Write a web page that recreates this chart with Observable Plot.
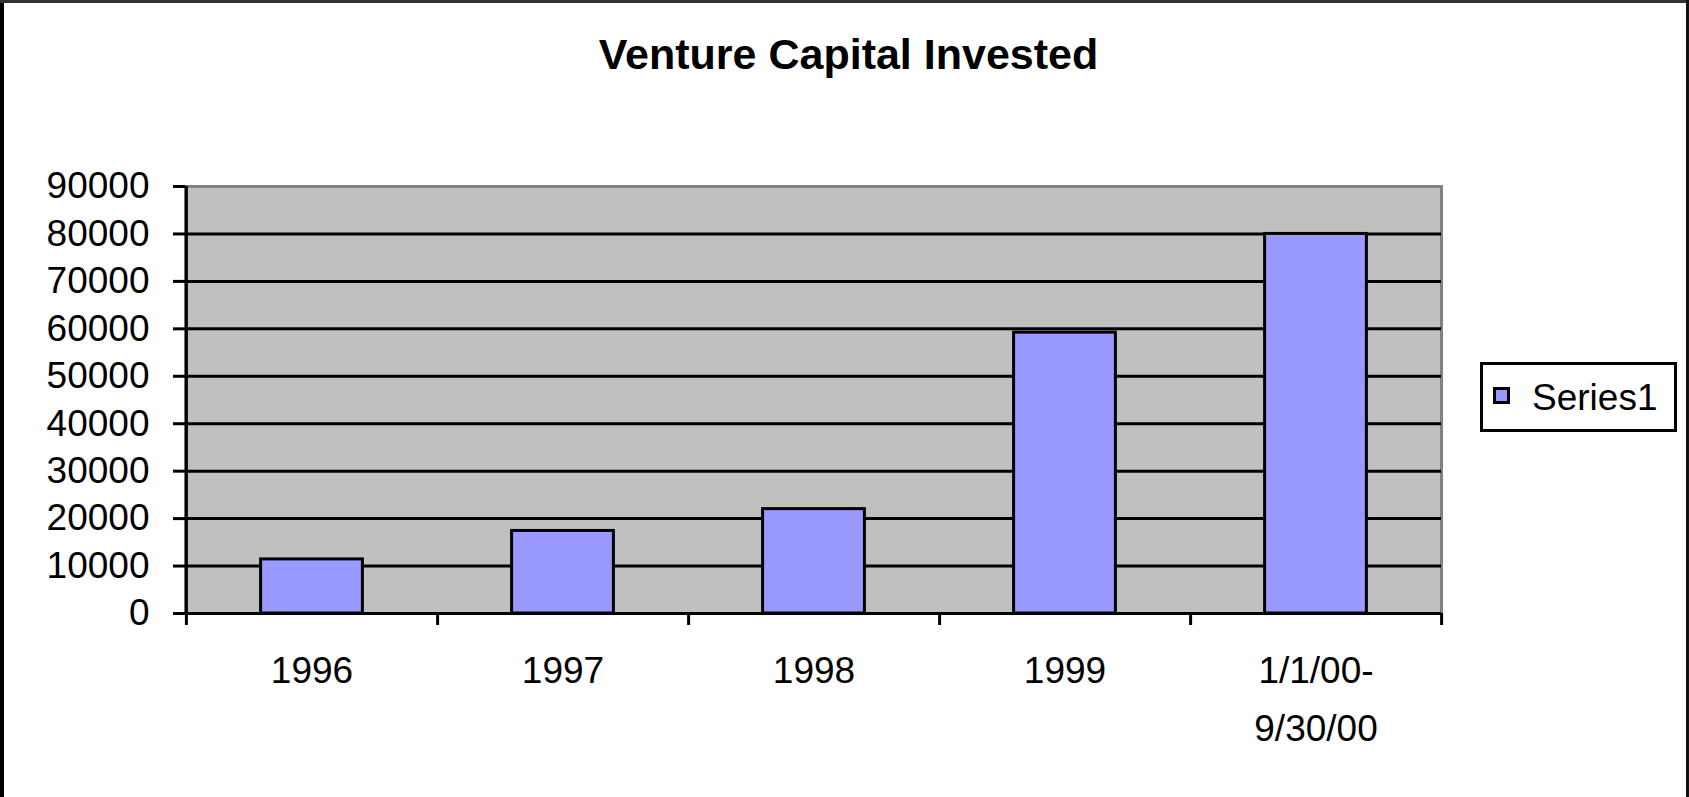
<!DOCTYPE html>
<html>
<head>
<meta charset="utf-8">
<script src="https://cdn.jsdelivr.net/npm/d3@7"></script>
<script src="https://cdn.jsdelivr.net/npm/@observablehq/plot@0.6"></script>
<style>
  html, body { margin: 0; padding: 0; background: #fff; }
  #wrap { position: relative; width: 1689px; height: 797px; overflow: hidden; background: #fff; font-family: "Liberation Sans", Arial, sans-serif; }
  #wrap svg { position: absolute; left: 0; top: 0; }
  .bl { position: absolute; left: 0; top: 0; width: 4px; height: 797px; background: #000; }
  .bt { position: absolute; left: 0; top: 0; width: 1689px; height: 3px; background: #333; }
  .br { position: absolute; right: 0; top: 0; width: 3px; height: 797px; background: #111; }
  #legend { position: absolute; left: 1480px; top: 362px; width: 197px; height: 70px; box-sizing: border-box;
            border: 3px solid #000; background: #fff; }
  #legend .sw { position: absolute; left: 10px; top: 22px; width: 17px; height: 17px; box-sizing: border-box; border: 3px solid #000; background: #9999FF; }
  #legend .lt { position: absolute; left: 49px; top: 14px; font-size: 37px; color: #000; line-height: 37px; white-space: nowrap; }
</style>
</head>
<body>
<div id="wrap"></div>
<script>
const title = "Venture Capital Invested";
const categories = ["1996", "1997", "1998", "1999", "2000"];
const tickLabels = ["1996", "1997", "1998", "1999", "1/1/00-\n9/30/00"];
const values = [11400, 17400, 22000, 59200, 80000];
const yTicks = [0, 10000, 20000, 30000, 40000, 50000, 60000, 70000, 80000, 90000];
const seriesName = "Series1";

const data = categories.map((c, i) => ({category: c, value: values[i]}));
const labelOf = new Map(categories.map((c, i) => [c, tickLabels[i]]));

const W = 1689, H = 797;
const mL = 185, mR = 248, mT = 186, mB = 184;
const bw = (W - mL - mR) / categories.length;

const chart = Plot.plot({
  width: W,
  height: H,
  marginLeft: mL,
  marginRight: mR,
  marginTop: mT,
  marginBottom: mB,
  style: {fontFamily: "'Liberation Sans', Arial, sans-serif", fontSize: "37px", color: "#000", background: "transparent"},
  x: {type: "band", domain: categories, padding: 0, align: 0.5},
  y: {domain: [0, 90000]},
  marks: [
    Plot.frame({fill: "#C0C0C0", stroke: "#808080", strokeWidth: 3}),
    Plot.ruleY(yTicks.filter(d => d > 0 && d < 90000), {stroke: "#000", strokeWidth: 3}),
    Plot.barY(data, {x: "category", y: "value", fill: "#9999FF", stroke: "#000", strokeWidth: 3, insetLeft: 74.6, insetRight: 74.6}),
    Plot.ruleY([0], {stroke: "#000", strokeWidth: 3}),
    Plot.ruleX([categories[0]], {x: d => d, dx: -bw / 2, y1: 90000, y2: 0, insetBottom: -12, stroke: "#000", strokeWidth: 3}),
    Plot.ruleX(categories, {x: d => d, dx: bw / 2, y1: 0, y2: 0, insetBottom: -12, stroke: "#000", strokeWidth: 3}),
    Plot.axisY({ticks: yTicks, tickSize: 12, tickPadding: 24, strokeWidth: 3, fontSize: 37, tickFormat: d3.format("d"), label: null}),
    Plot.axisX({tickSize: 0, tickPadding: 29, fontSize: 37, lineHeight: 1.55, tickFormat: d => labelOf.get(d), label: null}),
    Plot.text([title], {frameAnchor: "top", dx: 35, dy: -131, lineAnchor: "middle", fontSize: 43, fontWeight: "bold", fill: "#000"})
  ]
});

const wrap = document.getElementById("wrap");
wrap.appendChild(chart);
["bl", "bt", "br"].forEach(c => { const d = document.createElement("div"); d.className = c; wrap.appendChild(d); });
const lg = document.createElement("div");
lg.id = "legend";
lg.innerHTML = `<div class="sw"></div><div class="lt"></div>`;
lg.querySelector(".lt").textContent = seriesName;
wrap.appendChild(lg);
</script>
</body>
</html>
